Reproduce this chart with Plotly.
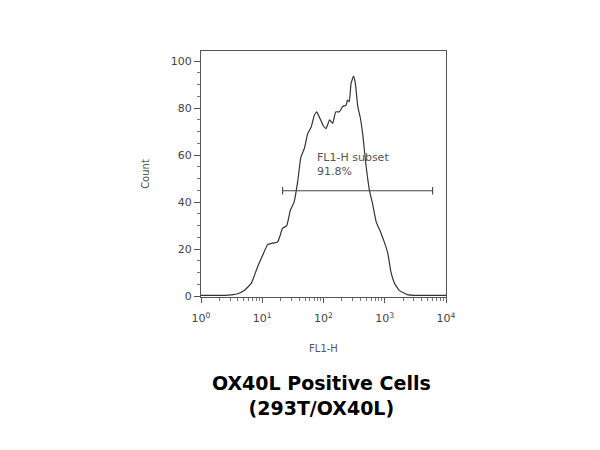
import plotly.graph_objects as go
import numpy as np

# Histogram outline (FL1-H log10 position, count)
log_fl1 = [0.0, 0.2, 0.4, 0.49, 0.6, 0.71, 0.82, 0.925, 1.007, 1.09, 1.15, 1.25, 1.295, 1.33, 1.40,
           1.46, 1.52, 1.58, 1.63, 1.69, 1.74, 1.80, 1.85, 1.89, 1.93, 1.99, 2.04, 2.10, 2.15,
           2.20, 2.26, 2.31, 2.37, 2.39, 2.42, 2.45, 2.49, 2.52, 2.56, 2.60, 2.64, 2.69, 2.75,
           2.80, 2.86, 2.93, 3.0, 3.05, 3.10, 3.16, 3.24, 3.37, 3.48, 3.7, 4.0]
counts = [0.3, 0.3, 0.3, 0.5, 1.0, 2.5, 5.4, 12.5, 17.4, 22.0, 22.4, 23.0, 26.0, 28.8, 30.0,
          36.6, 40.0, 49.0, 59.0, 63.0, 69.0, 72.0, 77.0, 78.4, 76.3, 72.8, 71.3, 75.0, 73.5,
          78.4, 78.4, 80.6, 81.3, 83.4, 82.7, 90.5, 93.6, 90.5, 80.6, 76.0, 69.0, 56.5, 45.0,
          39.4, 31.6, 27.4, 22.4, 18.2, 10.4, 5.4, 2.3, 0.6, 0.3, 0.3, 0.3]

# Gate
gate_low = 21.5
gate_high = 6050
gate_level = 44.8
gate_cap = 1.6
gate_name = "FL1-H subset"
gate_pct = "91.8%"

y_ticks = [0, 20, 40, 60, 80, 100]
x_decades = [1, 10, 100, 1000, 10000]
x_tick_text = ["10<sup>0</sup>", "10<sup>1</sup>", "10<sup>2</sup>", "10<sup>3</sup>", "10<sup>4</sup>"]

title_lines = ["OX40L Positive Cells", "(293T/OX40L)"]

fl1 = [10 ** v for v in log_fl1]
minor_vals = [d * m for d in x_decades[:-1] for m in range(2, 10)]

fig = go.Figure()
fig.add_trace(go.Scatter(x=fl1, y=counts, mode="lines", line_shape="spline",
                         line=dict(color="#333333", width=1.2, smoothing=0.4), hoverinfo="skip"))
gx = [gate_low, gate_low, None, gate_low, gate_high, None, gate_high, gate_high]
gy = [gate_level - gate_cap, gate_level + gate_cap, None, gate_level, gate_level, None,
      gate_level - gate_cap, gate_level + gate_cap]
fig.add_trace(go.Scatter(x=gx, y=gy, mode="lines", line=dict(color="#444444", width=1.1),
                         hoverinfo="skip"))

fig.add_annotation(x=np.log10(72), y=56.2, text=gate_name + "<br>" + gate_pct,
                   showarrow=False, xanchor="left", yanchor="middle", align="left",
                   font=dict(family="DejaVu Sans", size=11, color="#555555"))

fig.update_xaxes(type="log", range=[0, 4], tickvals=x_decades, ticktext=x_tick_text,
                 ticks="outside", ticklen=5, tickcolor="#555555", ticklabelstandoff=6,
                 minor=dict(tickvals=minor_vals, ticks="outside", ticklen=3, tickcolor="#777777"),
                 showline=True, mirror=True, linecolor="#555555", linewidth=1,
                 showgrid=False, zeroline=False,
                 tickfont=dict(family="DejaVu Sans", size=11, color="#444444"),
                 title=dict(text="FL1-H", font=dict(family="DejaVu Sans", size=10, color="#555555"),
                            standoff=20))
fig.update_yaxes(range=[-0.4, 104.3], tickvals=y_ticks, ticks="outside", ticklen=6,
                 tickcolor="#555555",
                 minor=dict(dtick=5, ticks="outside", ticklen=3, tickcolor="#777777", showgrid=False),
                 showline=True, mirror=True, linecolor="#555555", linewidth=1,
                 showgrid=False, zeroline=False,
                 tickfont=dict(family="DejaVu Sans", size=11, color="#444444"),
                 title=dict(text="Count", font=dict(family="DejaVu Sans", size=10, color="#555555"),
                            standoff=19))

fig.add_annotation(xref="paper", yref="paper", x=0.49, y=-0.402, yanchor="middle",
                   text="<b>" + title_lines[0] + "</b><br><b>" + title_lines[1] + "</b>",
                   showarrow=False, align="center",
                   font=dict(family="DejaVu Sans", size=19, color="#000000"))

fig.update_layout(width=600, height=450, showlegend=False,
                  plot_bgcolor="white", paper_bgcolor="white",
                  margin=dict(l=193, r=162, t=43, b=161))

fig.write_html("out.html")
